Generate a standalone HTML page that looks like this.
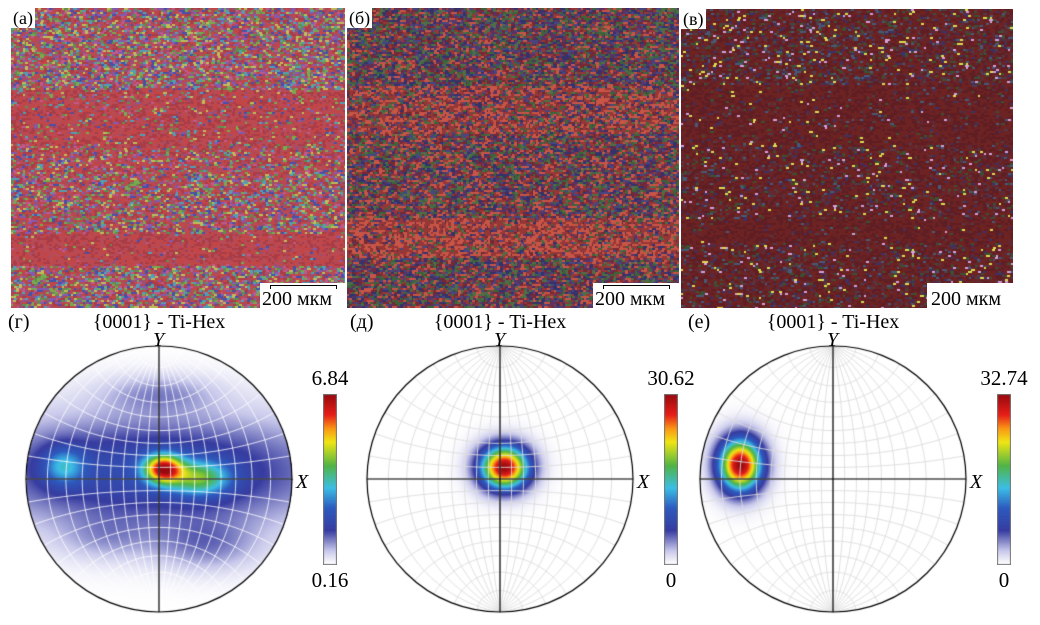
<!DOCTYPE html>
<html><head><meta charset="utf-8">
<style>
body{margin:0;background:#fff;width:1040px;height:625px;overflow:hidden;position:relative;font-family:"Liberation Serif","DejaVu Serif",serif;}
.abs{position:absolute;}
.lbl{position:absolute;background:#fff;font-size:18px;line-height:20px;padding:0 2px;font-family:"Liberation Serif","DejaVu Serif",serif;}
.txt{position:absolute;font-size:20px;line-height:20px;white-space:nowrap;font-family:"Liberation Serif","DejaVu Serif",serif;}
.it{font-style:italic;}
canvas{position:absolute;}
</style></head><body>
<canvas id="map0" style="left:11px;top:8px" width="334" height="300"></canvas>
<canvas id="map1" style="left:347px;top:8px" width="332" height="300"></canvas>
<canvas id="map2" style="left:681px;top:9px" width="332" height="299"></canvas>
<div class="lbl" style="left:11px;top:8px">(а)</div>
<div class="lbl" style="left:347px;top:8px">(б)</div>
<div class="lbl" style="left:681px;top:9px">(в)</div>
<div class="abs" style="left:260px;top:283px;width:85px;height:25px;background:#fff"><div style="position:absolute;left:10px;top:2px;width:65px;height:3px;border:1px solid #000;border-bottom:none"></div><div class="txt" style="left:2px;top:6px">200 мкм</div></div>
<div class="abs" style="left:593px;top:283px;width:86px;height:25px;background:#fff"><div style="position:absolute;left:10px;top:2px;width:65px;height:3px;border:1px solid #000;border-bottom:none"></div><div class="txt" style="left:2px;top:6px">200 мкм</div></div>
<div class="abs" style="left:927px;top:283px;width:86px;height:25px;background:#fff"><div class="txt" style="left:4px;top:6px">200 мкм</div></div>

<div class="txt" style="left:8px;top:312px">(г)</div>
<div class="txt" style="left:350px;top:312px">(д)</div>
<div class="txt" style="left:688px;top:312px">(е)</div>
<div id="pfs"></div>

<script>
// ---------- pole figure data ----------
const pfCenters=[[159,479],[500,479],[833,479]];
const pfMax=[6.84,30.62,32.74];
const pfMin=[0.16,0,0];
const pfMaxLabels=["6.84","30.62","32.74"];
const pfMinLabels=["0.16","0","0"];
// peaks: [u, v, amplitude, sigmaU, sigmaV] (u,v in radius units)
const peaks0=[[0.03,0.08,4.6,0.1,0.075],[0.3,0.01,2.5,0.16,0.09],[-0.72,0.1,1.7,0.11,0.1],[-0.05,0.06,1.85,1.0,0.3],[0.0,0.65,0.7,0.3,0.1],[0.35,-0.5,0.8,0.28,0.14],[-0.4,-0.45,0.5,0.25,0.12]];
const peaks1=[[0.03,0.09,30.5,0.13,0.115]];
const peaks2=[[-0.70,0.11,32.7,0.115,0.14]];
const peakSets=[peaks0,peaks1,peaks2];
const gridColors=["rgba(255,255,255,0.9)","#dcdcdc","#dcdcdc"];
const R=133;

const stops=[[0,[255,255,255]],[0.08,[200,200,235]],[0.2,[55,60,160]],[0.33,[45,90,190]],[0.45,[60,190,230]],[0.58,[80,180,70]],[0.72,[240,230,20]],[0.8,[250,150,20]],[0.88,[230,30,25]],[1,[150,10,15]]];
function cmap(t){t=Math.max(0,Math.min(1,t));for(let i=1;i<stops.length;i++){if(t<=stops[i][0]){const a=stops[i-1],b=stops[i];const f=(t-a[0])/(b[0]-a[0]);return a[1].map((c,k)=>Math.round(c+(b[1][k]-c)*f));}}return stops[stops.length-1][1];}

function proj(phi,lam){const x=Math.cos(phi)*Math.sin(lam),y=Math.sin(phi),z=Math.cos(phi)*Math.cos(lam);return [x/(1+z),y/(1+z)];}

const host=document.getElementById('pfs');
pfCenters.forEach((c,i)=>{
  const cx=c[0],cy=c[1];
  const cv=document.createElement('canvas');
  cv.width=2*R+4;cv.height=2*R+4;cv.style.left=(cx-R-2)+'px';cv.style.top=(cy-R-2)+'px';
  
  
  host.appendChild(cv);
  const g=cv.getContext('2d');const img=g.createImageData(cv.width,cv.height);
  const pk=peakSets[i];
  for(let py=0;py<cv.height;py++)for(let px=0;px<cv.width;px++){
    const u=(px-R-2)/R,v=(R+2-py)/R;if(u*u+v*v>1)continue;
    let val=pfMin[i];pk.forEach(p=>{val+=p[2]*Math.exp(-((u-p[0])**2/(2*p[3]*p[3])+(v-p[1])**2/(2*p[4]*p[4])));});
    const t=(val-pfMin[i])/(pfMax[i]-pfMin[i]);const col=cmap(t);const k=(py*cv.width+px)*4;
    img.data[k]=col[0];img.data[k+1]=col[1];img.data[k+2]=col[2];img.data[k+3]=255;}
  g.putImageData(img,0,0);
  const O=R+2;const D=Math.PI/180;
  g.strokeStyle=gridColors[i];g.lineWidth=0.9;
  for(let l=-80;l<=80;l+=10){g.beginPath();for(let p=-90;p<=90;p+=2){const q=proj(p*D,l*D);const X=O+q[0]*R,Y=O-q[1]*R;p==-90?g.moveTo(X,Y):g.lineTo(X,Y);}g.stroke();}
  for(let p=-80;p<=80;p+=10){g.beginPath();for(let l=-90;l<=90;l+=2){const q=proj(p*D,l*D);const X=O+q[0]*R,Y=O-q[1]*R;l==-90?g.moveTo(X,Y):g.lineTo(X,Y);}g.stroke();}
  g.strokeStyle="#000";g.lineWidth=1.2;
  g.beginPath();g.moveTo(O-R,O);g.lineTo(O+R,O);g.moveTo(O,O-R);g.lineTo(O,O+R);g.stroke();
  g.beginPath();g.arc(O,O,R,0,2*Math.PI);g.stroke();
  // colorbar
  const cb=document.createElement('canvas');cb.width=14;cb.height=171;
  cb.style.left=(cx+164)+'px';cb.style.top='394px';
  
  
  host.appendChild(cb);
  const h=cb.getContext('2d');
  for(let y=0;y<171;y++){const col=cmap(1-y/170);h.fillStyle=`rgb(${col})`;h.fillRect(0,y,14,1);}
  h.strokeStyle="#777";h.strokeRect(0.5,0.5,13,170);
  const mk=(txt,name,l,t,cls)=>{const d=document.createElement('div');d.className='txt'+(cls?' '+cls:'');d.textContent=txt;d.style.left=l+'px';d.style.top=t+'px';
    
    
    host.appendChild(d);return d;};
  const mx=mk(pfMaxLabels[i],'colorbar-max-'+i,cx+171,368);mx.style.transform='translateX(-50%)';mx.style.fontSize='21px';
  const mn=mk(pfMinLabels[i],'colorbar-min-'+i,cx+171,570);mn.style.transform='translateX(-50%)';mn.style.fontSize='21px';
  const tt=mk('{0001} - Ti-Hex','pole-figure-title-'+i,cx,312);tt.style.transform='translateX(-50%)';
  const yl=mk('Y','y-axis-label-'+i,cx-6,330,'it');
  const xl=mk('X','x-axis-label-'+i,cx+R+4,472,'it');
});

// ---------- EBSD maps (texture) ----------
let seed=12345;function rnd(){seed=(seed*1103515245+12345)&0x7fffffff;return seed/0x7fffffff;}
const redBands0=[[0,0.27,0.3],[0.27,0.46,0.8],[0.46,0.55,0.55],[0.55,0.75,0.4],[0.75,0.86,0.92],[0.86,1,0.3]];
const redBands1=[[0,0.26,0.25],[0.26,0.42,0.6],[0.42,0.7,0.35],[0.7,0.83,0.75],[0.83,1,0.3]];
const redBands2=[[0,0.25,0.5],[0.25,0.45,0.85],[0.45,0.7,0.65],[0.7,0.78,0.9],[0.78,1,0.6]];
const pal=[
 {red:[[195,70,70],[185,75,85],[170,60,70]],mix:[[190,90,140],[120,170,80],[70,80,170],[130,90,180],[190,190,90],[80,160,180],[100,140,80],[180,70,80],[150,80,120]]},
 {red:[[200,85,70],[150,55,55]],mix:[[60,100,60],[50,50,110],[90,50,100],[120,40,50],[80,110,70],[70,70,130]]},
 {red:[[110,35,35],[95,30,35]],mix:[[60,80,50],[60,50,100],[90,45,60],[210,160,220],[220,220,80],[70,90,120],[110,35,35],[80,60,70]]}];
const bandSets=[redBands0,redBands1,redBands2];
[0,1,2].forEach(m=>{
  const cv=document.getElementById('map'+m),g=cv.getContext('2d');
  g.fillStyle=m==0?'#a05070':(m==1?'#503040':'#5a2530');g.fillRect(0,0,cv.width,cv.height);
  const bands=bandSets[m];
  for(let y=0;y<cv.height;y+=2)for(let x=0;x<cv.width;x+=3){
    const f=y/cv.height;let p=0.4;bands.forEach(b=>{if(f>=b[0]&&f<b[1])p=b[2];});
    const P=pal[m];let col;
    if(rnd()<p)col=P.red[Math.floor(rnd()*P.red.length)];else col=P.mix[Math.floor(rnd()*P.mix.length)];
    if(m==2&&col[0]>200&&rnd()<0.5)col=P.red[0];
    g.fillStyle=`rgb(${col})`;g.fillRect(x+Math.floor(rnd()*2)-1,y,3+Math.floor(rnd()*2),2);
  }
});
</script>
</body></html>
